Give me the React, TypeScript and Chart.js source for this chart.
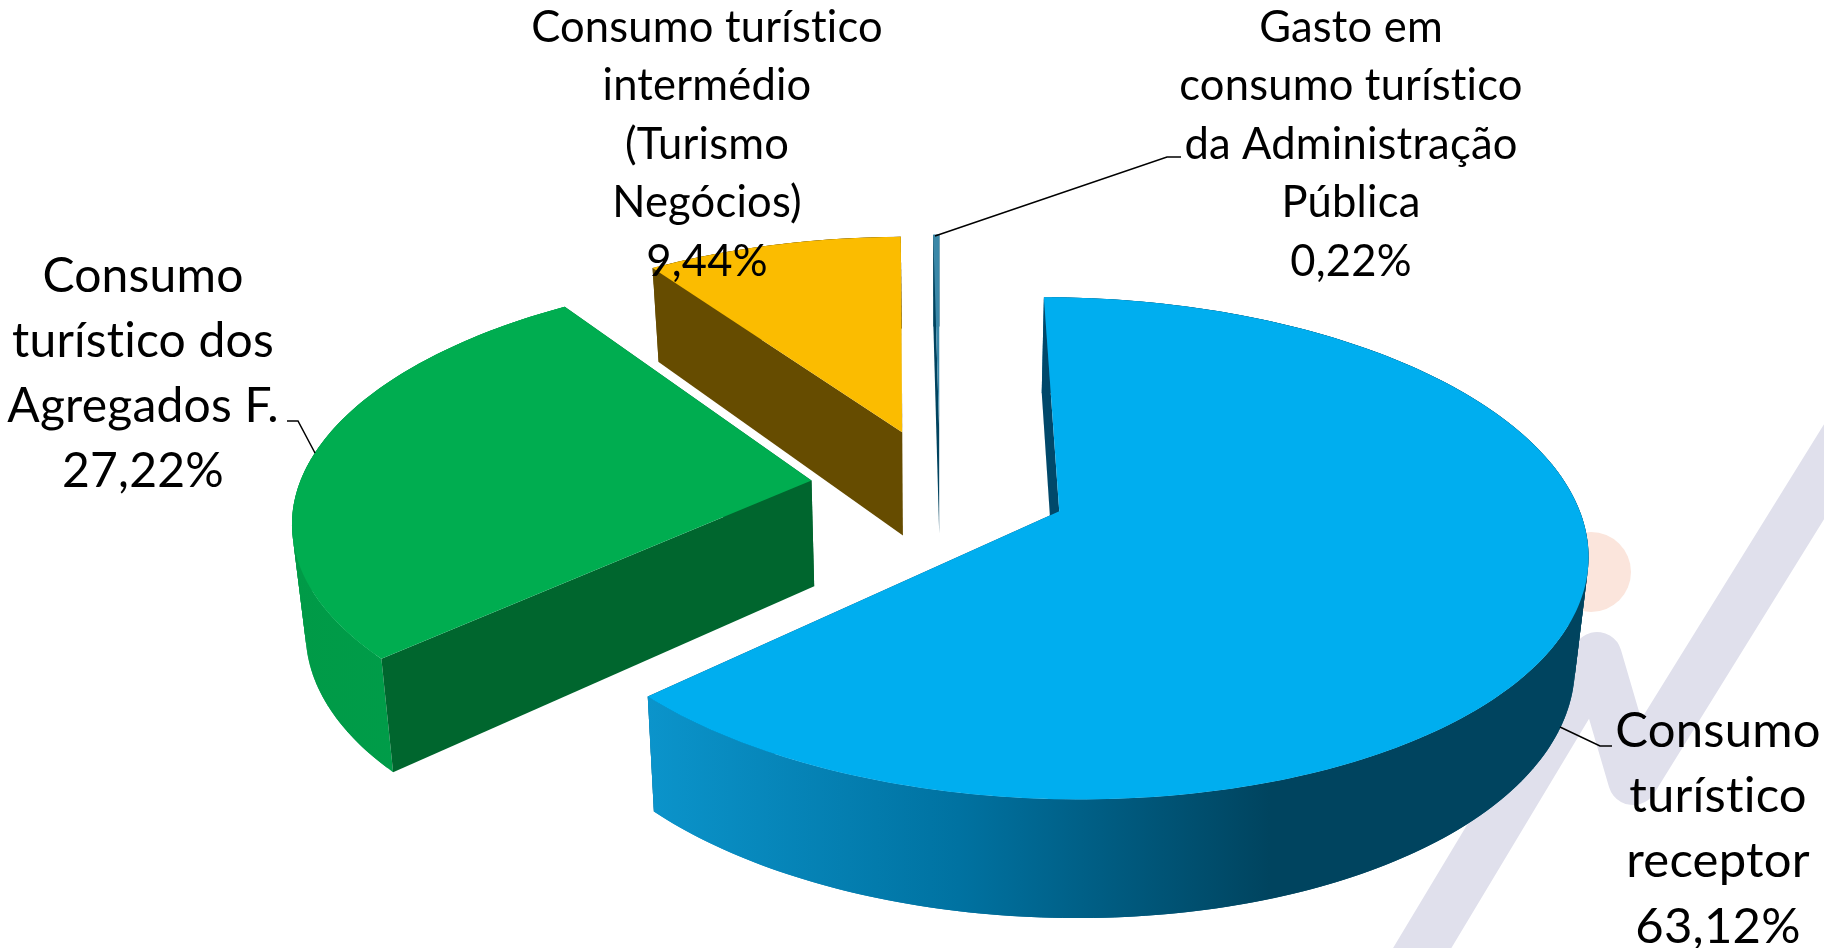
import React, { useEffect, useRef } from "react";
import { Chart, registerables } from "chart.js";

Chart.register(...registerables);

const categories = [
  ["Consumo", "turístico", "receptor"],
  ["Consumo", "turístico dos", "Agregados F."],
  ["Consumo turístico", "intermédio", "(Turismo", "Negócios)"],
  ["Gasto em", "consumo turístico", "da Administração", "Pública"],
];
const shares = [63.12, 27.22, 9.44, 0.22];
const shareLabels = ["63,12%", "27,22%", "9,44%", "0,22%"];
const topColors = ["#00AEEF", "#00AD50", "#FBBC00", "#3A88A8"];
const wallColors = ["#00486A", "#00662E", "#664C00", "#00435F"];
const rimStops: [number, string][][] = [
  [[0, "#0B94CB"], [0.5, "#0072A1"], [1, "#00445F"]],
  [[0, "#009A47"], [1, "#00A04B"]],
  [[0, "#664C00"], [1, "#664C00"]],
  [[0, "#00435F"], [1, "#00435F"]],
];
const pull = [0.25, 0.253, 0.25, 0.25];
const paintOrder = [2, 3, 1, 0];
const labelAnchors = [
  { x: 1718, y: 731, step: 65.3, size: 49 },
  { x: 143, y: 276.5, step: 65, size: 48 },
  { x: 707, y: 27.5, step: 58.5, size: 43.5 },
  { x: 1351, y: 27.5, step: 58.5, size: 43.5 },
];
const leaders = [
  [[1612, 746], [1600, 746], [1560, 727]],
  [[287, 421], [298, 421], [315, 453]],
  [[1181, 157], [1167, 157], [935, 236]],
];

const OX = 940, OY = 487, AX = 513, BY = 238.5, K = 0.1456, H = 106, D = 11.5, M = 0.021;

function project(a: number, r: number, e: number, mid: number, z: number) {
  const X = r * Math.cos(a) + e * Math.cos(mid);
  const Y = -r * Math.sin(a) - e * Math.sin(mid);
  const w = 1 + K * Y;
  const sx = OX + (AX * X) / w;
  const sy = OY - (BY * Y) / w;
  return { x: OX + (sx - OX) * (1 - M * z), y: sy + (H - D * Y) * z };
}

const pie3d = {
  id: "pie3d",
  beforeDraw(chart: any) {
    const c = chart.ctx;
    c.save();
    c.fillStyle = "#FFFFFF";
    c.fillRect(0, 0, chart.width, chart.height);
    c.strokeStyle = "#E0E0EC";
    c.lineWidth = 50;
    c.lineJoin = "round";
    c.beginPath();
    c.moveTo(1391, 1000);
    c.lineTo(1597, 657);
    c.lineTo(1633, 780);
    c.lineTo(1900, 349);
    c.stroke();
    c.fillStyle = "#FBE5DC";
    c.beginPath();
    c.arc(1591, 572, 40, 0, Math.PI * 2);
    c.fill();
    c.restore();
  },
  beforeDatasetsDraw(chart: any) {
    const c = chart.ctx;
    const arcs = chart.getDatasetMeta(0).data;
    const ds = chart.data.datasets[0];
    c.save();
    for (const i of paintOrder) {
      const { startAngle: s, endAngle: t } = arcs[i];
      const mid = (s + t) / 2;
      const e = pull[i];
      const n = Math.max(2, Math.ceil(((t - s) * 180) / Math.PI));
      const angles = Array.from({ length: n + 1 }, (_, j) => s + ((t - s) * j) / n);
      const rim = (z: number) => angles.map((a) => project(a, 1, e, mid, z));
      const apex = (z: number) => project(0, 0, e, mid, z);
      const poly = (pts: { x: number; y: number }[], fill: any) => {
        c.fillStyle = fill;
        c.beginPath();
        pts.forEach((p, j) => (j ? c.lineTo(p.x, p.y) : c.moveTo(p.x, p.y)));
        c.closePath();
        c.fill();
      };
      const top = rim(0), low = rim(1);
      const xs = top.map((p) => p.x);
      const g = c.createLinearGradient(Math.min(...xs), 0, i === 0 ? 1270 : Math.max(...xs), 0);
      rimStops[i].forEach(([o, col]) => g.addColorStop(o, col));
      poly([apex(0), top[n], low[n], apex(1)], wallColors[i]);
      for (let j = 0; j < n; j++) {
        const k = Math.min(j + 2, n);
        poly([top[j], top[k], low[k], low[j]], g);
      }
      poly([apex(0), top[0], low[0], apex(1)], wallColors[i]);
      poly([apex(0), ...top], ds.backgroundColor[i]);
    }
    c.restore();
    return false;
  },
  afterDraw(chart: any) {
    const c = chart.ctx;
    c.save();
    c.strokeStyle = "#000000";
    c.lineWidth = 1.5;
    for (const l of leaders) {
      c.beginPath();
      l.forEach(([x, y], j) => (j ? c.lineTo(x, y) : c.moveTo(x, y)));
      c.stroke();
    }
    c.fillStyle = "#000000";
    c.textAlign = "center";
    c.textBaseline = "middle";
    c.letterSpacing = "0.2px";
    categories.forEach((lines, i) => {
      const a = labelAnchors[i];
      c.font = `${a.size}px Lato`;
      [...lines, shareLabels[i]].forEach((t, j) => c.fillText(t, a.x, a.y + j * a.step));
    });
    c.restore();
  },
};

export default function App() {
  const ref = useRef<HTMLCanvasElement>(null);
  useEffect(() => {
    const chart = new Chart(ref.current!, {
      type: "pie",
      data: {
        labels: categories.map((l) => l.join(" ")),
        datasets: [{ data: shares, backgroundColor: topColors, borderWidth: 0 }],
      },
      options: {
        animation: false,
        responsive: false,
        plugins: { legend: { display: false }, tooltip: { enabled: false } },
      },
      plugins: [pie3d],
    } as any);
    return () => chart.destroy();
  }, []);
  return (
    <canvas
      ref={ref}
      width={1824}
      height={948}
      style={{ position: "fixed", left: 0, top: 0, display: "block" }}
    />
  );
}
